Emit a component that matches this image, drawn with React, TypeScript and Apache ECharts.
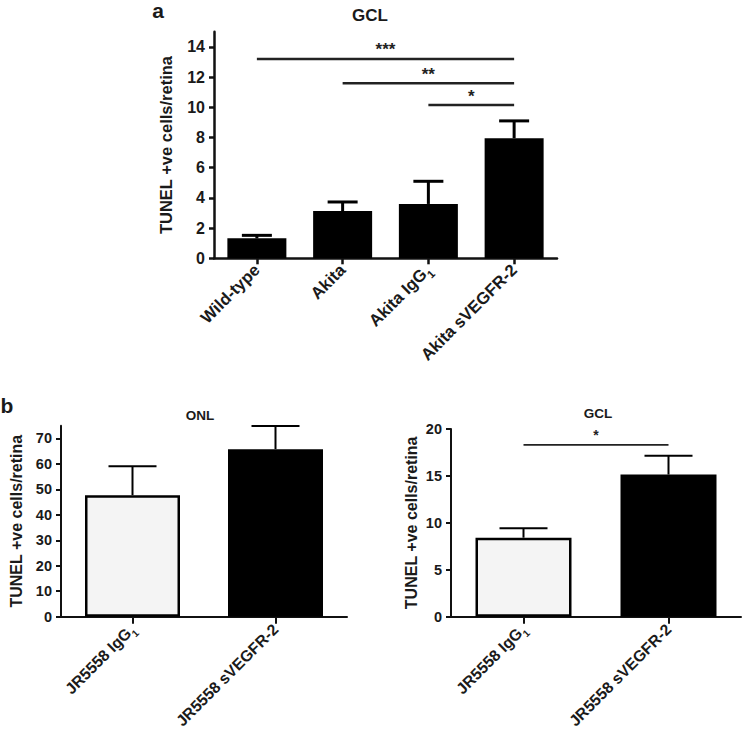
import React, { useEffect, useRef } from "react";
import * as echarts from "echarts";

// Panel a (GCL, Akita)
const aCategories = ["Wild-type", "Akita", "Akita IgG₁", "Akita sVEGFR-2"];
const aMeans = [1.32, 3.13, 3.6, 7.95];
const aErrTop = [1.52, 3.73, 5.1, 9.1];
const aTicks = [0, 2, 4, 6, 8, 10, 12, 14];
const aSigFrom = [0, 1, 2];
const aSigTo = [3, 3, 3];
const aSigY = [13.2, 11.6, 10.15];
const aSigLabels = ["***", "**", "*"];

// Panel b left (ONL)
const bCategories = ["JR5558 IgG₁", "JR5558 sVEGFR-2"];
const bOnlMeans = [47.7, 65.8];
const bOnlErrTop = [59.1, 74.9];
const bOnlTicks = [0, 10, 20, 30, 40, 50, 60, 70];

// Panel b right (GCL)
const bGclMeans = [8.42, 15.15];
const bGclErrTop = [9.42, 17.15];
const bGclTicks = [0, 5, 10, 15, 20];
const bGclSigFrom = [0];
const bGclSigTo = [1];
const bGclSigY = [18.3];
const bGclSigLabels = ["*"];

const FONT = '"Liberation Sans", Arial, Helvetica, sans-serif';

function errorSeries(idx: number, means: number[], tops: number[], half: number, lw: number) {
  return {
    type: "custom",
    xAxisIndex: idx,
    yAxisIndex: idx,
    z: 3,
    data: means.map((m, i) => [i, m, tops[i]]),
    encode: { x: 0, y: [1, 2] },
    renderItem: (params: any, api: any) => {
      const x = api.value(0);
      const p0 = api.coord([x, api.value(1)]);
      const p1 = api.coord([x, api.value(2)]);
      const st = { stroke: "#000", lineWidth: lw };
      return {
        type: "group",
        children: [
          { type: "line", shape: { x1: p0[0], y1: p0[1], x2: p1[0], y2: p1[1] }, style: st },
          { type: "line", shape: { x1: p1[0] - half, y1: p1[1], x2: p1[0] + half, y2: p1[1] }, style: st },
        ],
      };
    },
  };
}

function sigSeries(idx: number, from: number[], to: number[], ys: number[], labels: string[], fs: number, lw: number, gap: number) {
  return {
    type: "custom",
    xAxisIndex: idx,
    yAxisIndex: idx,
    z: 3,
    data: from.map((f, i) => [f, to[i], ys[i]]),
    encode: { x: [0, 1], y: 2 },
    renderItem: (params: any, api: any) => {
      const p0 = api.coord([api.value(0), api.value(2)]);
      const p1 = api.coord([api.value(1), api.value(2)]);
      return {
        type: "group",
        children: [
          { type: "line", shape: { x1: p0[0], y1: p0[1], x2: p1[0], y2: p1[1] }, style: { stroke: "#222", lineWidth: lw } },
          {
            type: "text",
            style: {
              text: labels[params.dataIndex],
              x: (p0[0] + p1[0]) / 2,
              y: p0[1] - gap,
              align: "center",
              verticalAlign: "middle",
              textAlign: "center",
              textVerticalAlign: "middle",
              font: `bold ${fs}px ${FONT}`,
              fill: "#222",
            },
          },
        ],
      };
    },
  };
}

function yAxisDef(idx: number, max: number, ticks: number[], fs: number, nameFs: number, gap: number, lw: number, margin: number) {
  return {
    type: "value",
    gridIndex: idx,
    min: 0,
    max,
    name: "TUNEL +ve cells/retina",
    nameLocation: "middle",
    nameRotate: 90,
    nameGap: gap,
    nameTextStyle: { fontFamily: FONT, fontWeight: "bold", fontSize: nameFs, color: "#1a1a1a" },
    axisLine: { show: true, lineStyle: { color: "#111", width: lw } },
    axisTick: { show: true, length: 5, lineStyle: { color: "#111", width: lw }, customValues: ticks },
    axisLabel: { fontFamily: FONT, fontWeight: "bold", fontSize: fs, color: "#1a1a1a", margin, customValues: ticks },
    splitLine: { show: false },
  };
}

function xAxisDef(idx: number, cats: string[], fs: number, lw: number, tickLen: number, margin: number) {
  const lh = Math.round(fs * 1.45);
  return {
    type: "category",
    gridIndex: idx,
    data: cats,
    axisLine: { show: true, lineStyle: { color: "#111", width: lw } },
    axisTick: { show: true, alignWithLabel: true, length: tickLen, lineStyle: { color: "#111", width: lw } },
    axisLabel: {
      rotate: 45,
      interval: 0,
      fontFamily: FONT,
      fontWeight: "bold",
      fontSize: fs,
      lineHeight: lh,
      color: "#1a1a1a",
      margin,
      formatter: (v: string) => v.replace("₁", "{sub|1}"),
      rich: {
        sub: {
          fontFamily: FONT,
          fontWeight: "bold",
          fontSize: Math.round(fs * 0.65),
          color: "#1a1a1a",
          lineHeight: lh,
          verticalAlign: "bottom",
        },
      },
    },
    splitLine: { show: false },
  };
}

function textEl(text: string, x: number, y: number, fs: number) {
  return {
    type: "text",
    x,
    y,
    style: {
      text,
      align: "center",
      verticalAlign: "middle",
      textAlign: "center",
      textVerticalAlign: "middle",
      font: `bold ${fs}px ${FONT}`,
      fill: "#1a1a1a",
    },
  };
}

export default function App() {
  const ref = useRef<HTMLDivElement>(null);
  useEffect(() => {
    if (!ref.current) return;
    const chart = echarts.init(ref.current, undefined, { renderer: "svg" });
    const option: any = {
      animation: false,
      backgroundColor: "#ffffff",
      grid: [
        { left: 214, top: 31.8, width: 343, height: 226.5 },
        { left: 61, top: 425.7, width: 286, height: 191 },
        { left: 451, top: 429, width: 290, height: 187.7 },
      ],
      xAxis: [
        xAxisDef(0, aCategories, 16.8, 2.5, 6, 9),
        xAxisDef(1, bCategories, 15.8, 2, 7, 10),
        xAxisDef(2, bCategories, 15.8, 2, 7, 10),
      ],
      yAxis: [
        yAxisDef(0, 15, aTicks, 16, 16.5, 40, 2.5, 9),
        yAxisDef(1, 75, bOnlTicks, 14.5, 16, 37, 2, 9),
        yAxisDef(2, 20, bGclTicks, 14.5, 16, 32, 2, 9),
      ],
      series: [
        {
          type: "bar",
          xAxisIndex: 0,
          yAxisIndex: 0,
          barWidth: 59,
          data: aMeans,
          itemStyle: { color: "#000" },
        },
        errorSeries(0, aMeans, aErrTop, 15, 3),
        sigSeries(0, aSigFrom, aSigTo, aSigY, aSigLabels, 17, 2.5, 9),
        {
          type: "bar",
          xAxisIndex: 1,
          yAxisIndex: 1,
          barWidth: 95,
          data: bOnlMeans.map((v, i) => ({
            value: v,
            itemStyle: i === 0 ? { color: "#f4f4f4", borderColor: "#000", borderWidth: 2.5 } : { color: "#000" },
          })),
        },
        errorSeries(1, bOnlMeans, bOnlErrTop, 24, 2),
        {
          type: "bar",
          xAxisIndex: 2,
          yAxisIndex: 2,
          barWidth: 96,
          data: bGclMeans.map((v, i) => ({
            value: v,
            itemStyle: i === 0 ? { color: "#f4f4f4", borderColor: "#000", borderWidth: 2.5 } : { color: "#000" },
          })),
        },
        errorSeries(2, bGclMeans, bGclErrTop, 24, 2),
        sigSeries(2, bGclSigFrom, bGclSigTo, bGclSigY, bGclSigLabels, 14, 1.8, 10),
      ],
      graphic: [
        textEl("a", 158, 10, 21),
        textEl("GCL", 370, 15, 17),
        textEl("b", 7, 405, 21),
        textEl("ONL", 200, 415, 13.5),
        textEl("GCL", 598, 413, 13.5),
      ],
    };
    chart.setOption(option);
    return () => chart.dispose();
  }, []);
  return (
    <div
      ref={ref}
      style={{ position: "fixed", left: 0, top: 0, width: 743, height: 739, background: "#fff" }}
    />
  );
}
